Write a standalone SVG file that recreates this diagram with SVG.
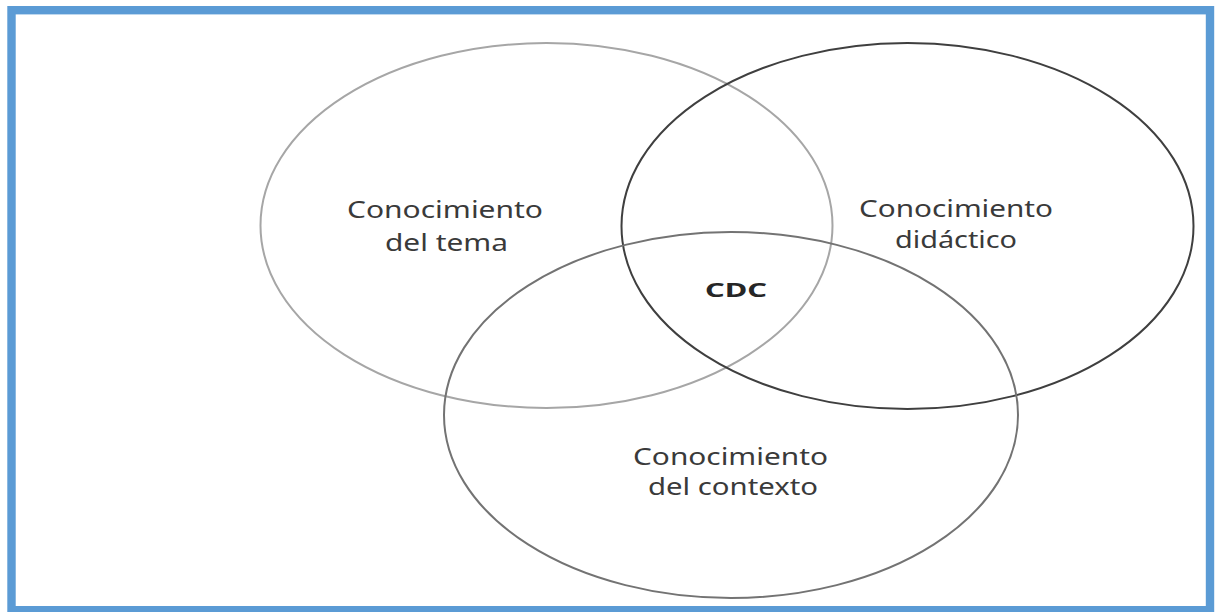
<svg xmlns="http://www.w3.org/2000/svg" width="1215" height="612" viewBox="0 0 1215 612">
  <style>
    .c { fill: none; stroke-width: 2; }
    .t { font-family: "Noto Sans", "Open Sans", sans-serif; font-size: 24px; fill: #3a3a3a; text-anchor: middle; }
    .b { font-weight: bold; font-size: 20px; fill: #262626; }
  </style>
  <rect x="0" y="0" width="1215" height="612" fill="#ffffff"/>
  <rect id="frame" x="11.5" y="10.2" width="1198.5" height="600" fill="none" stroke="#5b9bd5" stroke-width="8.4"/>
  <g id="tema">
    <ellipse class="c" cx="546.5" cy="225.5" rx="286" ry="182.5" stroke="#a6a6a6"/>
    <text class="t" x="445" y="218" textLength="196" lengthAdjust="spacingAndGlyphs">Conocimiento</text>
    <text class="t" x="446.5" y="251" textLength="123" lengthAdjust="spacingAndGlyphs">del tema</text>
  </g>
  <g id="didactico">
    <ellipse class="c" cx="907.5" cy="226" rx="286" ry="183" stroke="#3f3f3f"/>
    <text class="t" x="956" y="217" textLength="194" lengthAdjust="spacingAndGlyphs">Conocimiento</text>
    <text class="t" x="956" y="248" textLength="122" lengthAdjust="spacingAndGlyphs">didáctico</text>
  </g>
  <g id="contexto">
    <ellipse class="c" cx="731" cy="415" rx="287" ry="183" stroke="#737373"/>
    <text class="t" x="730.5" y="465" textLength="195" lengthAdjust="spacingAndGlyphs">Conocimiento</text>
    <text class="t" x="733" y="495" textLength="170" lengthAdjust="spacingAndGlyphs">del contexto</text>
  </g>
  <g id="cdc">
    <text class="t b" x="736" y="297" textLength="62" lengthAdjust="spacingAndGlyphs">CDC</text>
  </g>
  <g id="connectors"></g>
</svg>
